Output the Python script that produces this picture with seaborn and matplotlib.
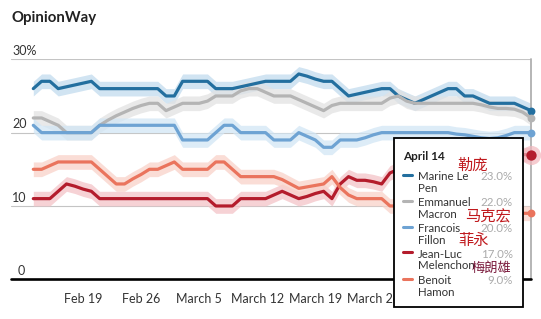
import numpy as np
import pandas as pd
import matplotlib
matplotlib.use("Agg")
import matplotlib.pyplot as plt
import matplotlib.dates as mdates
from matplotlib.patches import Rectangle
from matplotlib.lines import Line2D
import seaborn as sns

# ---------------- data ----------------
start_date = "2017-02-13"
end_date = "2017-04-14"
candidates = ["Marine Le Pen", "Emmanuel Macron", "Francois Fillon",
              "Jean-Luc Melenchon", "Benoit Hamon"]
lepen = [26, 27, 27, 26, 26.25, 26.5, 26.75, 27, 26, 26,
         26, 26, 26, 26, 26, 26, 25, 25, 27, 27,
         27, 27, 26, 26, 26, 26.25, 26.5, 26.75, 27, 27,
         27, 27, 28, 27.7, 27.3, 27, 27, 26, 25, 25.25,
         25.5, 25.75, 26, 26, 25, 24.5, 24, 24.5, 25, 25.5,
         26, 26, 25, 25, 24.5, 24, 24, 24, 24, 23.5,
         23]
macron = [22, 22, 21.5, 21, 20, 20, 20, 20, 21, 21.7,
          22.3, 22.8, 23.3, 23.7, 24, 24, 23, 23.5, 24, 24,
          24, 24.3, 25, 25, 25, 25.7, 26, 26, 25.5, 25,
          25, 25, 24.5, 24, 23.5, 23, 23.7, 24, 24, 24,
          24, 24, 24, 24.7, 25, 24.3, 24, 24, 24, 24,
          24, 24, 24, 24, 23.8, 23.5, 23.3, 23.3, 23.2, 22.8,
          22]
fillon = [21, 20, 20, 20, 20, 20, 20, 20, 21, 21,
          21, 21, 21, 21, 21, 21, 21, 21, 19, 19,
          19, 19, 20, 21, 21, 20, 20, 20, 20, 19,
          19, 19, 20, 19.5, 19, 18, 18, 19, 19, 19,
          19.3, 19.7, 20, 20, 20, 20, 20, 20, 20, 20,
          20, 19.8, 19.7, 19.5, 19.3, 19.2, 19.3, 19.6, 20, 20,
          20]
melenchon = [11, 11, 11, 12, 13, 12.7, 12.3, 12, 11, 11,
             11, 11, 11, 11, 11, 11, 11, 11, 11, 11,
             11, 11, 10, 10, 10, 11, 11, 11, 11, 11.5,
             12, 11.5, 11, 11.3, 11.7, 12, 11, 13, 14, 13.5,
             13.5, 13.3, 13, 14.5, 15, 15, 15, 15.5, 15.5, 16,
             16, 16, 16.5, 16.5, 17, 17, 17, 17, 17, 17,
             17]
hamon = [15, 15, 15.5, 16, 16, 16, 16, 16, 15, 14,
         13, 13, 13.7, 14.3, 15, 15, 15.5, 16, 15, 15,
         15, 15, 16, 16, 15, 14, 14, 14, 14, 14,
         13.6, 13, 12.4, 12.6, 12.8, 13, 14, 12.5, 11.5, 11,
         11, 11, 11, 10, 10, 10, 10, 10, 10, 9.5,
         9.5, 9, 9, 9, 9, 9, 9, 9, 9, 9,
         9]
series = [lepen, macron, fillon, melenchon, hamon]
tooltip_names = [("Marine Le", "Pen"), ("Emmanuel", "Macron"), ("Francois", "Fillon"),
                 ("Jean-Luc", "Melenchon"), ("Benoit", "Hamon")]
tooltip_values = ["23.0%", "22.0%", "20.0%", "17.0%", "9.0%"]
tick_dates = ["2017-02-19", "2017-02-26", "2017-03-05", "2017-03-12",
              "2017-03-19", "2017-03-26"]
tick_labels = ["Feb 19", "Feb 26", "March 5", "March 12", "March 19",
               "March 26"]
y_gridlines = [10, 20, 30]
y_labels = ["10", "20", "30%"]
band = 1.0

line_colors = ["#236f9f", "#b4b4b4", "#6ea3d3", "#b41c2c", "#ea745d"]
band_colors = ["#c2dbee", "#e2e2e2", "#d2e6f5", "#f4c3c7", "#f9d2c9"]

dates = pd.date_range(start_date, end_date, freq="D")
df = pd.concat([pd.DataFrame({"date": dates, "value": v, "candidate": c})
                for c, v in zip(candidates, series)], ignore_index=True)

# ---------------- figure ----------------
sns.set_style("white")
plt.rcParams["font.family"] = ["Lato", "DejaVu Sans"]

W, H = 541, 319
fig = plt.figure(figsize=(W / 100, H / 100), dpi=100)

def fx(x):
    return x / W

def fy(y):
    return 1 - y / H

ax_l, ax_r, ax_t, ax_b = 11, 531, 59.3, 279.3
ax = fig.add_axes([fx(ax_l), fy(ax_b), (ax_r - ax_l) / W, (ax_b - ax_t) / H])

d0 = mdates.date2num(dates[0])
d1 = mdates.date2num(dates[-1])
px_per_day = (531 - 33.3) / (d1 - d0)
ax.set_xlim(d0 - (33.3 - ax_l) / px_per_day, d1)
ax.set_ylim(0, 30)

# gridlines
for g in y_gridlines:
    ax.axhline(g, color="#c4c4c4", lw=0.8, zorder=0)

# bands
for v, bc in zip(series, band_colors):
    arr = np.array(v, dtype=float)
    ax.fill_between(dates, arr - band, arr + band, color=bc, alpha=0.75,
                    lw=0, zorder=1)

sns.lineplot(data=df, x="date", y="value", hue="candidate",
             hue_order=candidates, palette=line_colors, linewidth=2.3,
             legend=False, ax=ax, zorder=3)
for ln in ax.lines:
    ln.set_solid_joinstyle("round")
    ln.set_solid_capstyle("round")

# hover line and points
ax.axvline(dates[-1], color="#b0b0b0", lw=1.3, zorder=2, clip_on=False)
ax.scatter([dates[-1]], [melenchon[-1]], s=190, color="#f2b7bd", alpha=0.7,
           zorder=4, clip_on=False, lw=0)
for i, (v, c) in enumerate(zip(series, line_colors)):
    ax.scatter([dates[-1]], [v[-1]], s=(55 if i == 3 else 32), color=c,
               zorder=5, clip_on=False, lw=0)

# baseline
ax.axhline(0, color="black", lw=1.9, zorder=6, clip_on=False)

for s in ax.spines.values():
    s.set_visible(False)
ax.set_xlabel("")
ax.set_ylabel("")
ax.set_yticks([])
ax.set_xticks([mdates.date2num(pd.Timestamp(t)) for t in tick_dates])
ax.set_xticklabels(tick_labels)
ax.tick_params(axis="x", length=4, width=0.8, color="#bbbbbb", pad=6,
               labelsize=9, labelcolor="#333333", direction="out")

# y labels
def val_to_py(v):
    return ax_b - v * (ax_b - ax_t) / 30

fig.text(fx(25), fy(val_to_py(0) - 8.3), "0", ha="right", va="center",
         fontsize=9, color="#333333")
for g, lab in zip(y_gridlines, y_labels):
    fig.text(fx(12.3), fy(val_to_py(g) - 8.3), lab, ha="left", va="center",
             fontsize=9, color="#333333")

# title
fig.text(fx(11), fy(18), "OpinionWay", ha="left", va="center",
         fontsize=10.8, fontweight="bold", color="#222222")

# tooltip
fig.add_artist(Rectangle((fx(394), fy(307)), (523 - 394) / W, (307 - 138) / H,
                         transform=fig.transFigure, facecolor="white",
                         edgecolor="black", lw=1.3, zorder=10))
fig.text(fx(403), fy(156), "April 14", ha="left", va="center", fontsize=8.5,
         fontweight="bold", color="#222222", zorder=11)
row_y = [177, 203, 229, 254, 281]
for (n1, n2), val, c, ry in zip(tooltip_names, tooltip_values, line_colors, row_y):
    fig.add_artist(Line2D([fx(403), fx(412)], [fy(ry - 2.5), fy(ry - 2.5)],
                          transform=fig.transFigure, color=c, lw=2.2,
                          zorder=11))
    fig.text(fx(418), fy(ry), n1, ha="left", va="center", fontsize=8.3,
             color="#333333", zorder=11)
    fig.text(fx(418), fy(ry + 11.8), n2, ha="left", va="center", fontsize=8.3,
             color="#333333", zorder=11)
    fig.text(fx(513), fy(ry), val, ha="right", va="center", fontsize=8.3,
             color="#aaaaaa", zorder=11)

# Chinese annotations
cjk = ["Noto Sans CJK SC", "DejaVu Sans"]
fig.text(fx(472.5), fy(165), "勒庞", ha="center", va="center", fontsize=11,
         color="#c01a1e", family=cjk, zorder=12)
fig.text(fx(487.5), fy(216), "马克宏", ha="center", va="center", fontsize=11,
         color="#c01a1e", family=cjk, zorder=12)
fig.text(fx(474), fy(240), "菲永", ha="center", va="center", fontsize=11,
         color="#c01a1e", family=cjk, zorder=12)
fig.text(fx(491), fy(268), "梅朗雄", ha="center", va="center", fontsize=9.5,
         color="#7a1a3c", family=cjk, zorder=12)

fig.savefig("out.png", dpi=100)
